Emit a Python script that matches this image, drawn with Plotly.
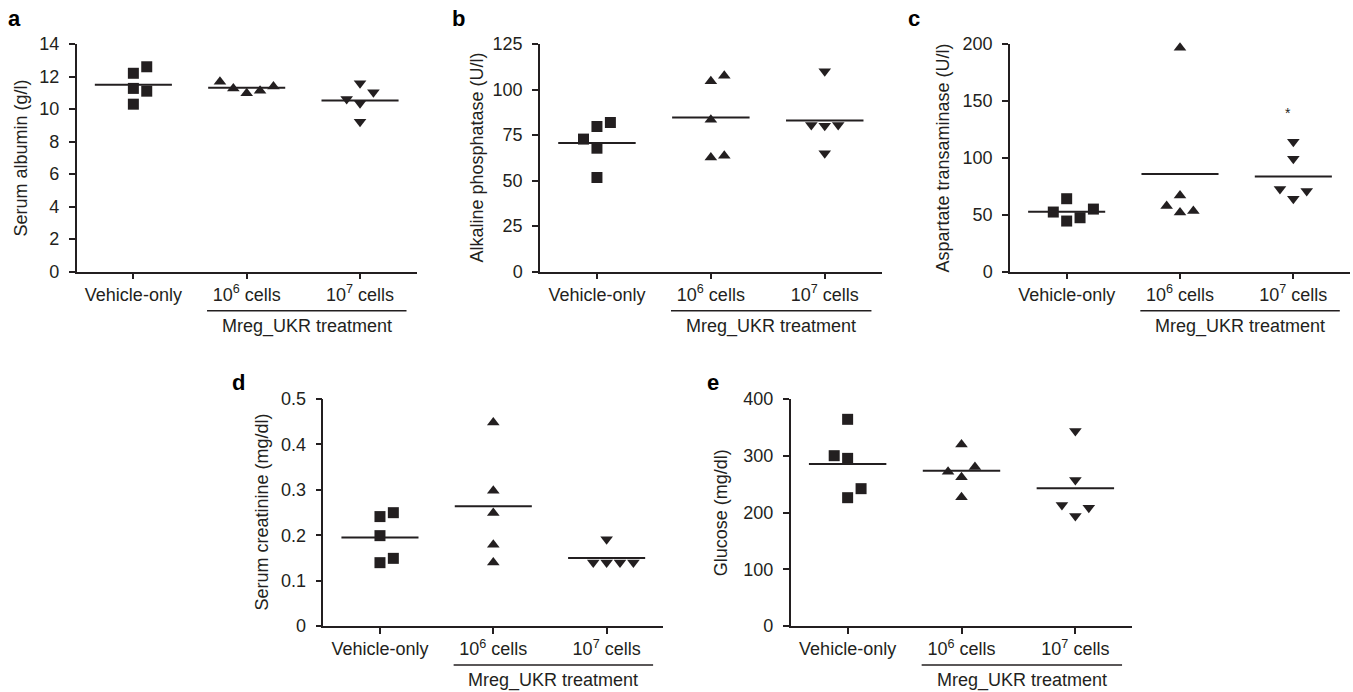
import plotly.graph_objects as go

# ---------------- data ----------------
categories = ["Vehicle-only", "10<sup>6</sup> cells", "10<sup>7</sup> cells"]
group_label = "Mreg_UKR treatment"

# a: Serum albumin (g/l)
albumin_vehicle = [12.2, 12.6, 11.27, 11.1, 10.3]
albumin_1e6 = [11.68, 11.27, 10.97, 11.13, 11.38]
albumin_1e7 = [11.58, 11.03, 10.62, 10.35, 9.22]
albumin_means = [11.5, 11.31, 10.53]

# b: Alkaline phosphatase (U/l)
alp_vehicle = [72.8, 79.7, 81.9, 67.8, 51.7]
alp_1e6 = [104.5, 107.6, 83.4, 62.7, 63.6]
alp_1e7 = [110.0, 80.6, 80.1, 80.6, 65.0]
alp_means = [70.6, 84.7, 83.0]

# c: Aspartate transaminase (U/l)
ast_vehicle = [52.4, 64.1, 44.5, 47.4, 55.0]
ast_1e6 = [196.8, 67.0, 57.7, 52.1, 53.3]
ast_1e7 = [114.2, 99.3, 72.6, 70.9, 64.1]
ast_means = [52.7, 85.8, 83.7]

# d: Serum creatinine (mg/dl)
creat_vehicle = [0.241, 0.2496, 0.199, 0.1395, 0.149]
creat_1e6 = [0.448, 0.298, 0.249, 0.179, 0.14]
creat_1e7 = [0.191, 0.14, 0.14, 0.14, 0.14]
creat_means = [0.195, 0.264, 0.15]

# e: Glucose (mg/dl)
glu_vehicle = [364.2, 300.1, 295.4, 242.0, 226.1]
glu_1e6 = [320.0, 272.0, 280.0, 262.0, 226.7]
glu_1e7 = [343.6, 257.3, 213.2, 208.5, 193.8]
glu_means = [285.5, 273.7, 242.6]

# horizontal jitter slots (in dot widths) as seen in the reference
albumin_jitter = [[0, 1, 0, 1, 0], [-2, -1, 0, 1, 2], [0, 1, -1, 0, 0]]
alp_jitter = [[-1, 0, 1, 0, 0], [0, 1, 0, 0, 1], [0, -1, 0, 1, 0]]
ast_jitter = [[-1, 0, 0, 1, 2], [0, 0, -1, 0, 1], [0, 0, -1, 1, 0]]
creat_jitter = [[0, 1, 0, 0, 1], [0, 0, 0, 0, 0], [0, -1, 0, 1, 2]]
glu_jitter = [[0, -1, 0, 1, 0], [0, -1, 1, 0, 0], [0, 0, -1, 1, 0]]

# significance mark in panel c (10^7 group)
ast_star_value = 139

panels = [
    dict(label="a", title="Serum albumin (g/l)", groups=[albumin_vehicle, albumin_1e6, albumin_1e7],
         means=albumin_means, jitter=albumin_jitter, yticks=[0, 2, 4, 6, 8, 10, 12, 14], ymax=14,
         ticktext=None),
    dict(label="b", title="Alkaline phosphatase (U/l)", groups=[alp_vehicle, alp_1e6, alp_1e7],
         means=alp_means, jitter=alp_jitter, yticks=[0, 25, 50, 75, 100, 125], ymax=125, ticktext=None),
    dict(label="c", title="Aspartate transaminase (U/l)", groups=[ast_vehicle, ast_1e6, ast_1e7],
         means=ast_means, jitter=ast_jitter, yticks=[0, 50, 100, 150, 200], ymax=200, ticktext=None),
    dict(label="d", title="Serum creatinine (mg/dl)", groups=[creat_vehicle, creat_1e6, creat_1e7],
         means=creat_means, jitter=creat_jitter, yticks=[0, 0.1, 0.2, 0.3, 0.4, 0.5], ymax=0.5,
         ticktext=["0", "0.1", "0.2", "0.3", "0.4", "0.5"]),
    dict(label="e", title="Glucose (mg/dl)", groups=[glu_vehicle, glu_1e6, glu_1e7],
         means=glu_means, jitter=glu_jitter, yticks=[0, 100, 200, 300, 400], ymax=400, ticktext=None),
]

# ---------------- layout geometry (pixels of the 1353x692 page) ----------------
W, H = 1353, 692
# (x_left, x_right, y_top, y_bottom) of each plotting area in pixels
boxes = [
    (76.7, 416.7, 44.0, 271.7),
    (540.0, 881.7, 44.0, 271.7),
    (1010.0, 1350.0, 44.0, 271.7),
    (323.3, 663.3, 399.0, 626.0),
    (790.7, 1132.3, 399.0, 626.0),
]
title_x = [20.7, 476.7, 942.7, 261.0, 720.7]
label_pos = [(14, 18), (458, 18), (914, 18), (238, 382), (713, 382)]

INK = "#231f20"
FONT = "Liberation Sans, Arial, Helvetica, sans-serif"
symbols = ["square", "triangle-up", "triangle-down"]
sizes = [11, 11, 11]
JIT = 0.118
HALF = 0.34

fig = go.Figure()
annotations = []
shapes = []

for i, (p, box) in enumerate(zip(panels, boxes)):
    n = "" if i == 0 else str(i + 1)
    xa, ya = "x" + n, "y" + n
    x0, x1, yt, yb = box
    for g, vals in enumerate(p["groups"]):
        xs = [g + JIT * j for j in p["jitter"][g]]
        fig.add_trace(go.Scatter(
            x=xs, y=vals, mode="markers", xaxis=xa, yaxis=ya, showlegend=False,
            marker=dict(symbol=symbols[g], size=sizes[g], color=INK, line=dict(width=0)),
            cliponaxis=False))
    mx, my = [], []
    for g, m in enumerate(p["means"]):
        mx += [g - HALF, g + HALF, None]
        my += [m, m, None]
    fig.add_trace(go.Scatter(x=mx, y=my, mode="lines", xaxis=xa, yaxis=ya, showlegend=False,
                             line=dict(color=INK, width=2)))

    fig.layout["xaxis" + n] = dict(
        domain=[x0 / W, x1 / W], anchor=ya, range=[-0.5, 2.5], showgrid=False, zeroline=False,
        showline=True, linecolor=INK, linewidth=1.5, ticks="outside", ticklen=6, tickwidth=1.5,
        tickcolor=INK, tickvals=[0, 1, 2], ticktext=categories, automargin=False,
        tickfont=dict(family=FONT, size=18, color=INK), fixedrange=True)
    yax = dict(
        domain=[1 - yb / H, 1 - yt / H], anchor=xa, range=[0, p["ymax"]], showgrid=False,
        zeroline=False, showline=True, linecolor=INK, linewidth=1.5, ticks="outside", ticklen=6,
        tickwidth=1.5, tickcolor=INK, tickvals=p["yticks"], automargin=False,
        ticklabelstandoff=6,
        tickfont=dict(family=FONT, size=18, color=INK), fixedrange=True)
    if p["ticktext"]:
        yax["ticktext"] = p["ticktext"]
    fig.layout["yaxis" + n] = yax

    # y-axis title
    annotations.append(dict(text=p["title"], x=title_x[i] / W, y=1 - (yt + yb) / 2 / H,
                            xref="paper", yref="paper", textangle=-90, showarrow=False,
                            xanchor="center", yanchor="middle",
                            font=dict(family=FONT, size=18, color=INK)))
    # panel letter
    lx, ly = label_pos[i]
    annotations.append(dict(text="<b>" + p["label"] + "</b>", x=lx / W, y=1 - ly / H,
                            xref="paper", yref="paper", showarrow=False,
                            xanchor="center", yanchor="middle",
                            font=dict(family=FONT, size=22, color="#000")))
    # treatment bracket
    shapes.append(dict(type="line", xref=xa, yref="paper", x0=0.65, x1=2.41,
                       y0=1 - (yb + 39) / H, y1=1 - (yb + 39) / H,
                       line=dict(color=INK, width=1.5)))
    annotations.append(dict(text=group_label, x=1.53, y=1 - (yb + 54.5) / H, xref=xa, yref="paper",
                            showarrow=False, xanchor="center", yanchor="middle",
                            font=dict(family=FONT, size=18, color=INK)))

# significance asterisk in panel c
annotations.append(dict(text="*", x=2 - 0.05, y=ast_star_value, xref="x3", yref="y3",
                        showarrow=False, xanchor="center", yanchor="middle",
                        font=dict(family=FONT, size=14, color=INK)))

fig.update_layout(width=W, height=H, margin=dict(l=0, r=0, t=0, b=0, autoexpand=False),
                  template="none",
                  paper_bgcolor="white", plot_bgcolor="white",
                  annotations=annotations, shapes=shapes,
                  font=dict(family=FONT, size=18, color=INK))

fig.write_html("out.html", config={"displayModeBar": False},
               post_script="document.body.style.margin='0';document.body.style.overflow='hidden';")
